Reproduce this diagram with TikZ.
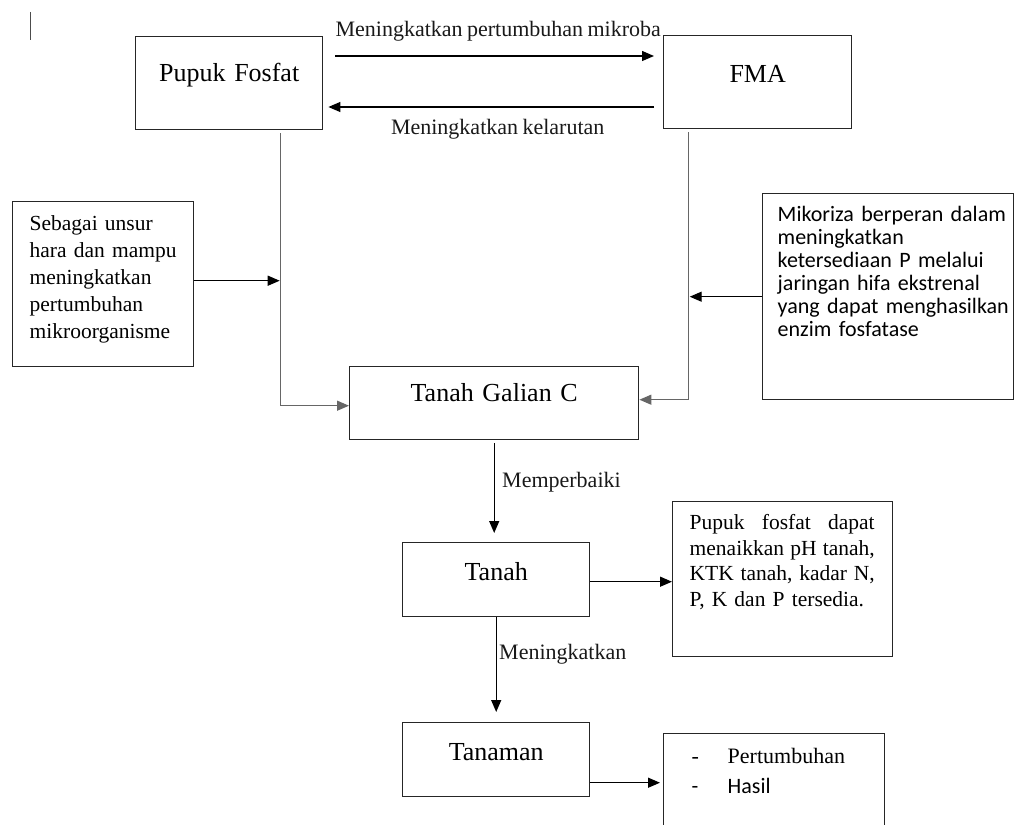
\documentclass[tikz,border=0pt]{standalone}
\usepackage{fontspec}
\setmainfont[WordSpace=0.8]{Liberation Serif}
\newfontfamily\calib{Carlito}
\usetikzlibrary{arrows.meta,calc}
\begin{document}
\begin{tikzpicture}[x=1pt,y=-1pt,
  bx/.style={draw=black!85, line width=1.4pt, inner ysep=0pt, anchor=north west},
  ttl/.style={bx, font=\fontsize{26}{30}\selectfont, align=center, inner xsep=0pt},
  lbl/.style={font=\fontsize{22}{26}\selectfont, inner sep=0pt, text=black!90},
  arr/.style={line width=1.3pt, draw=black, -{Triangle[length=12pt,width=10pt]}},
  garr/.style={arr, draw=black!60},
]
\useasboundingbox (0,0) rectangle (1016,824);

% stray cursor mark
\draw[line width=1pt, black!70] (30,12) -- (30,40);

% boxes
\node[ttl, text width=187pt, text height=45pt, text depth=48pt] (pf) at (135,36) {Pupuk Fosfat};
\node[ttl, text width=188pt, text height=47pt, text depth=46pt] (fma) at (663,35) {FMA};
\node[ttl, text width=289pt, text height=35pt, text depth=38pt] (tgc) at (349,366) {Tanah Galian C};
\node[ttl, text width=187pt, text height=38pt, text depth=36pt] (tanah) at (402,542) {Tanah};
\node[ttl, text width=187pt, text height=38pt, text depth=36pt] (tanaman) at (402,722) {Tanaman};

\node[bx, inner xsep=0pt, text width=181pt, text height=29pt, text depth=136pt,
      font=\fontsize{21.5}{27}\selectfont] (sb) at (12,201)
  {\hspace*{17pt}\parbox[t]{160pt}{\raggedright Sebagai unsur\\hara dan mampu\\meningkatkan\\pertumbuhan\\mikroorganisme}};

\node[bx, inner xsep=0pt, text width=251pt, text height=28pt, text depth=178pt,
      font=\calib\fontsize{22}{23}\selectfont] (mik) at (762,193)
  {\hspace*{15pt}\parbox[t]{232pt}{\raggedright Mikoriza berperan dalam\\meningkatkan\\ketersediaan P melalui\\jaringan hifa ekstrenal\\yang dapat menghasilkan\\enzim fosfatase}};

\node[bx, inner xsep=0pt, text width=220pt, text height=28pt, text depth=127pt,
      font=\fontsize{21.5}{25.5}\selectfont] (ket) at (672,501)
  {\hspace*{17pt}\parbox[t]{185pt}{\makebox[185pt]{Pupuk\hfill fosfat\hfill dapat}\\\makebox[185pt]{menaikkan\hfill pH\hfill tanah,}\\\makebox[185pt]{KTK\hfill tanah,\hfill kadar\hfill N,}\\P, K dan P tersedia.}};

\node[bx, inner xsep=0pt, text width=221pt, text height=30pt, text depth=67pt,
      font=\fontsize{22}{30}\selectfont] (hasil) at (663,733)
  {\hspace*{28pt}\parbox[t]{185pt}{\makebox[36pt][l]{-}Pertumbuhan\\{\calib\makebox[36pt][l]{-}Hasil}}};

% helper coordinates
\coordinate (pfd) at ([xshift=51.5pt]pf.south);
\coordinate (fmd) at ([xshift=-69pt]fma.south);
\coordinate (t1) at ([xshift=12pt,yshift=-20pt]pf.north east);
\coordinate (b1) at ([xshift=-9pt,yshift=-72pt]fma.north west);

% top arrows
\draw[arr, shorten >=9pt] (t1) -- (t1 -| fma.west)
  node[lbl, midway, anchor=base, xshift=-1pt, yshift=19pt] (lt) {Meningkatkan pertumbuhan mikroba};
\draw[arr, shorten >=5pt] (b1) -- (b1 -| pf.east)
  node[lbl, midway, anchor=base, xshift=9pt, yshift=-28pt] (lb) {Meningkatkan kelarutan};

% side connectors into Tanah Galian C
\draw[garr] ([yshift=-3pt]pfd) |- ([yshift=-2.5pt]tgc.west);
\draw[garr] ([yshift=-3pt]fmd) |- ([yshift=3.5pt]tgc.east);
\draw[arr, shorten >=1pt] ([yshift=3.5pt]sb.east) -- ([yshift=3.5pt]sb.east -| pfd);
\draw[arr, shorten >=1pt] (mik.west) -- (mik.west -| fmd);

% vertical chain
\draw[arr, shorten <=3pt, shorten >=9pt] (tgc.south) -- (tgc.south |- tanah.north);
\node[lbl, anchor=base west] (lm) at (502,487) {Memperbaiki};
\draw[arr] ([yshift=-2pt]tanah.east) -- ([yshift=-2pt]tanah.east -| ket.west);
\draw[arr, shorten >=10pt] (tanah.south) -- (tanah.south |- tanaman.north);
\node[lbl, anchor=base west] (lk) at (499,659) {Meningkatkan};
\draw[arr, shorten >=3pt] ([yshift=-23pt]tanaman.east) -- ([yshift=-23pt]tanaman.east -| hasil.west);
\end{tikzpicture}
\end{document}
